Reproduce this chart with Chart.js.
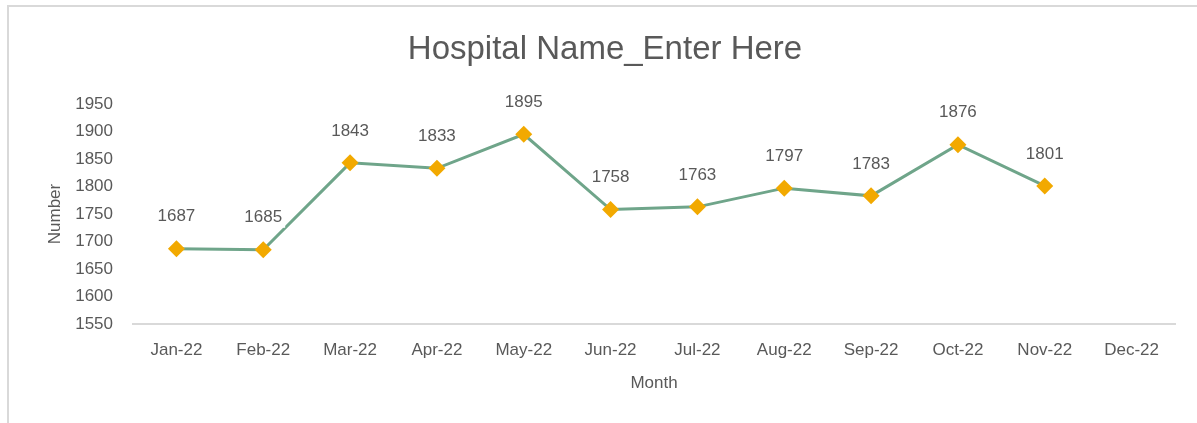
<!DOCTYPE html>
<html lang="en">
<head>
  <meta charset="UTF-8">
  <title>Hospital Name_Enter Here</title>
  <style>
    body {
      margin: 0;
      background: #ffffff;
      font-family: "Liberation Sans", Arial, sans-serif;
    }
    .frame {
      position: absolute;
      left: 7px;
      top: 5px;
      width: 1300px;
      height: 500px;
      border-left: 2px solid #d9d9d9;
      border-top: 2px solid #d9d9d9;
    }
    .chart-container {
      position: absolute;
      left: 0;
      top: 0;
      width: 1197px;
      height: 423px;
    }
  </style>
</head>
<body>
  <div class="frame"></div>
  <div class="chart-container">
    <canvas id="hospitalChart" width="1197" height="423"></canvas>
  </div>

  <script src="https://cdn.jsdelivr.net/npm/chart.js"></script>
  <script>
    // Monthly counts (Dec-22 has no value yet)
    const months = ['Jan-22', 'Feb-22', 'Mar-22', 'Apr-22', 'May-22', 'Jun-22',
                    'Jul-22', 'Aug-22', 'Sep-22', 'Oct-22', 'Nov-22', 'Dec-22'];
    const counts = [1687, 1685, 1843, 1833, 1895, 1758, 1763, 1797, 1783, 1876, 1801, null];
    const yMin = 1550;
    const yMax = 1950;
    const yStep = 50;
    const chartTitle = 'Hospital Name_Enter Here';

    const textColor = '#595959';
    const fontFamily = '"Liberation Sans", Arial, sans-serif';

    // Title is drawn by hand so it can be centred on the outer frame, not the plot
    const frameTitle = {
      id: 'frameTitle',
      afterDraw(chart) {
        const ctx = chart.ctx;
        ctx.save();
        ctx.font = '33px ' + fontFamily;
        ctx.fillStyle = textColor;
        ctx.textAlign = 'center';
        ctx.textBaseline = 'middle';
        ctx.fillText(chartTitle, 605, 50);
        ctx.restore();
      }
    };

    // Draw the value above each point on a white box, like Excel data labels
    const valueLabels = {
      id: 'valueLabels',
      afterDatasetsDraw(chart) {
        const ctx = chart.ctx;
        const meta = chart.getDatasetMeta(0);
        ctx.save();
        ctx.font = '17px ' + fontFamily;
        ctx.textAlign = 'center';
        ctx.textBaseline = 'middle';
        meta.data.forEach((pt, i) => {
          const v = counts[i];
          if (v === null || v === undefined) return;
          const txt = String(v);
          const w = ctx.measureText(txt).width + 6;
          const x = pt.x;
          const y = pt.y - 33;
          ctx.fillStyle = '#ffffff';
          ctx.fillRect(x - w / 2, y - 11, w, 22);
          ctx.fillStyle = textColor;
          ctx.fillText(txt, x, y + 1);
        });
        ctx.restore();
      }
    };

    const ctx = document.getElementById('hospitalChart').getContext('2d');
    new Chart(ctx, {
      type: 'line',
      data: {
        labels: months,
        datasets: [{
          label: 'Number',
          data: counts,
          borderColor: '#6fa58a',
          borderWidth: 3,
          tension: 0,
          spanGaps: false,
          pointStyle: 'rectRot',
          pointRadius: 8.5,
          pointHoverRadius: 8.5,
          pointBackgroundColor: '#f2a900',
          pointBorderColor: '#f2a900',
          pointBorderWidth: 0
        }]
      },
      options: {
        responsive: false,
        animation: false,
        devicePixelRatio: 1,
        layout: {
          padding: { top: 104, right: 22, bottom: 0, left: 0 }
        },
        plugins: {
          legend: { display: false },
          tooltip: { enabled: false },
          title: { display: false }
        },
        scales: {
          x: {
            offset: true,
            grid: { display: false, drawTicks: false },
            border: { display: true, color: '#d9d9d9', width: 2 },
            ticks: {
              color: textColor,
              font: { family: fontFamily, size: 17 },
              padding: 16,
              maxRotation: 0,
              autoSkip: false
            },
            title: {
              display: true,
              text: 'Month',
              color: textColor,
              font: { family: fontFamily, size: 17 },
              padding: { top: 0, bottom: 29 }
            },
            afterFit(scale) { scale.height = 99; }
          },
          y: {
            min: yMin,
            max: yMax,
            grid: { display: false, drawTicks: false },
            border: { display: false },
            ticks: {
              stepSize: yStep,
              color: textColor,
              font: { family: fontFamily, size: 17 },
              padding: 20,
              callback: (v) => String(v)
            },
            title: {
              display: true,
              text: 'Number',
              color: textColor,
              font: { family: fontFamily, size: 17 },
              padding: { top: 45, bottom: 0 }
            },
            afterFit(scale) { scale.width = 133; }
          }
        }
      },
      plugins: [valueLabels, frameTitle]
    });
  </script>
</body>
</html>
